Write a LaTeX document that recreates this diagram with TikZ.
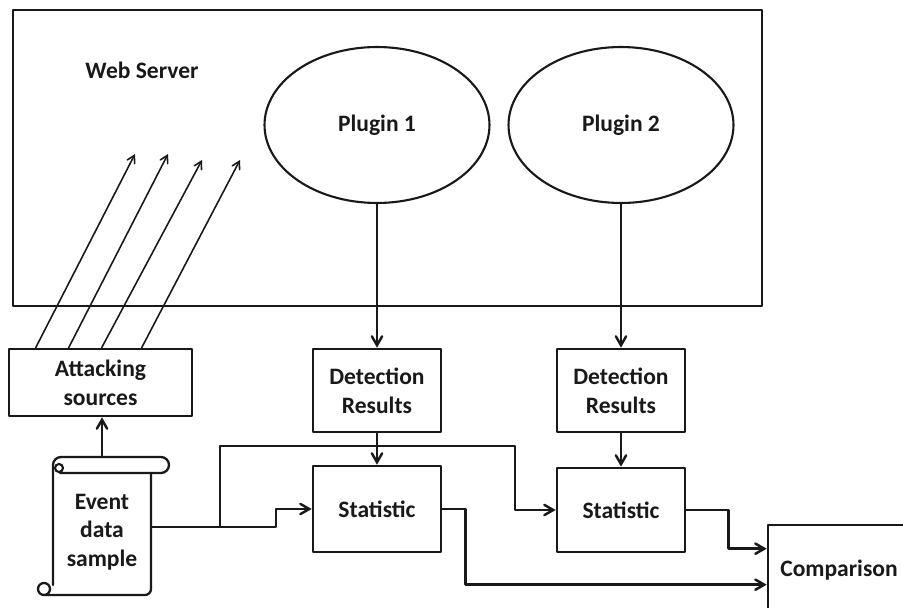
\documentclass[tikz,border=0pt]{standalone}
\usepackage{fontspec}
\setmainfont{Carlito}
\usetikzlibrary{arrows,shapes.geometric}
\definecolor{qqqqqq}{rgb}{0.1,0.1,0.1}

\tikzset{
  lbl/.style={font=\fontsize{13.4}{16.6}\selectfont\bfseries,align=center,text=qqqqqq},
  boxnode/.style={lbl,draw=qqqqqq,line width=1.5pt,minimum width=2.56cm,minimum height=1.66cm,inner sep=0pt},
  plug/.style={lbl,ellipse,draw=qqqqqq,line width=1.2pt,minimum width=4.5cm,minimum height=3.12cm},
  conn/.style={draw=qqqqqq,line width=1.4pt,->},
  atk/.style={draw=qqqqqq,line width=0.9pt,->}
}

\begin{document}
\begin{tikzpicture}[line cap=round,line join=round,>=angle 60,x=0.02cm,y=-0.02cm]
\useasboundingbox (0,0) rectangle (903,608);
% web server
\node[draw=qqqqqq,line width=1.6pt,minimum width=14.98cm,minimum height=5.92cm] (srv) at (387.5,158) {};
\node[lbl] (srvlbl) at (142,70) {Web Server};
\node[plug] (p1) at (377,125) {Plugin 1};
\node[plug] (p2) at (621,125) {Plugin 2};
% boxes
\node[boxnode,minimum width=3.66cm,minimum height=1.34cm] (as) at (100.5,382.5) {Attacking\\sources};
\node[boxnode] (dr1) at (377,390.5) {Detection\\Results};
\node[boxnode] (dr2) at (621,390.5) {Detection\\Results};
\node[boxnode,minimum height=1.72cm] (st1) at (377,509) {Statistic};
\node[boxnode,minimum height=1.68cm] (st2) at (621,510) {Statistic};
\node[boxnode,minimum width=2.84cm,minimum height=1.8cm] (cmp) at (839,570) {Comparison};
% event data scroll
\node[lbl,font=\fontsize{13.4}{16.2}\selectfont\bfseries,minimum width=1.96cm,minimum height=2.44cm,inner sep=0pt] (evt) at (102,532) {Event\\data\\sample};
\draw[qqqqqq,line width=1.3pt] (53,585) -- (53,470) [rounded corners=0.16cm] -- (53,457) -- (169,457) -- (169,473) -- (60,473);
\draw[qqqqqq,line width=1.2pt] (59,468) circle (4);
\draw[qqqqqq,line width=1.3pt,rounded corners=0.12cm] (151,473) -- (151,595) -- (45,595);
\draw[qqqqqq,line width=1.3pt] (44,589) circle (6);
\coordinate (roll) at (102,457);
\coordinate (jn) at (220,527);
% attacks
\foreach \dx/\ex/\ey in {0.56/135/154,1.22/168/154,1.88/202/160,2.68/240/160}{
  \coordinate (tip) at (\ex,\ey);
  \draw[atk] ([xshift=\dx cm]as.north west) -- (tip);
}
% connectors
\draw[conn] (roll) -- (roll |- as.south);
\draw[conn] (p1.south) -- (dr1.north);
\draw[conn] (p2.south) -- (dr2.north);
\draw[conn] (dr1.south) -- (st1.north);
\draw[conn] (dr2.south) -- (st2.north);
\draw[qqqqqq,line width=1.4pt] (evt.east |- jn) -- (jn);
\draw[conn] (jn) -- (276,527) |- (st1.west);
\draw[conn] (jn) |- (515,446) |- (st2.west);
\draw[conn] (st2.east) -- ++(42,0) |- ([yshift=-0.5cm]cmp.north west);
\draw[conn] (st1.east) -- ++(23,0) |- ([yshift=-1.22cm]cmp.north west);
\end{tikzpicture}
\end{document}
